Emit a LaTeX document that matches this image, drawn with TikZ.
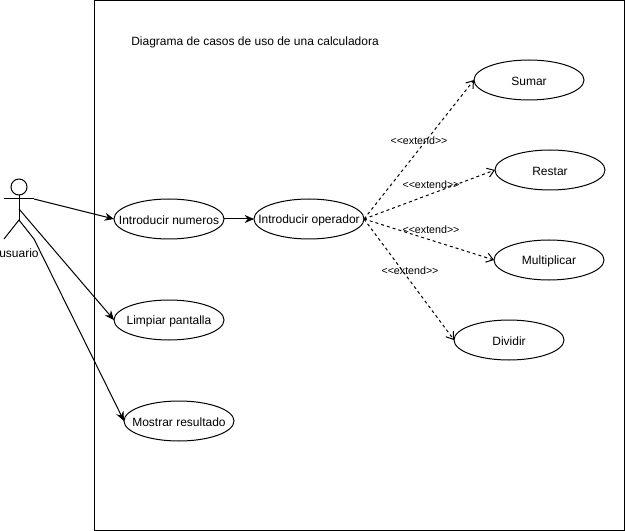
\documentclass[tikz,border=0pt]{standalone}
\usepackage{fontspec}
\setmainfont{Liberation Sans}[Ligatures=NoCommon]
\usetikzlibrary{shapes.geometric,arrows.meta}
\tikzset{
  uc/.style={draw,ellipse,line width=0.75pt,minimum width=82.5pt,minimum height=30pt,inner sep=0pt,outer sep=0pt,
     label={[font=\fontsize{9}{10}\selectfont,inner sep=0pt,yshift=-0.75pt]center:#1}},
  lab/.style={font=\fontsize{8}{9}\selectfont,inner sep=0pt},
  arr/.style={-{Stealth[length=7pt,width=6pt]},line width=0.75pt},
  ext/.style={-{Straight Barb[length=5pt,width=7pt]},line width=0.75pt,dash pattern=on 2.25pt off 2.25pt},
  ln/.style={line width=0.75pt}
}
\begin{document}
\begin{tikzpicture}[x=0.75pt,y=-0.75pt]
\useasboundingbox (0,0) rectangle (625,531);
\fill[white] (0,0) rectangle (625,531);
\node[draw,line width=0.75pt,inner sep=0pt,outer sep=0pt,anchor=north west,minimum width=397.5pt,minimum height=397.5pt] (sys) at (94.5,0.5) {};
\node[font=\fontsize{9}{10}\selectfont,anchor=west,inner sep=0pt] (title) at (131,42) {Diagrama de casos de uso de una calculadora};
\node[uc={Introducir numeros}] (num) at (169,219) {};
\node[uc={Introducir operador}] (ope) at (309,219) {};
\node[uc={Limpiar pantalla}] (lim) at (169,320) {};
\node[uc={Mostrar resultado}] (mos) at (179,421) {};
\node[uc={Sumar}] (sum) at (529,80) {};
\node[uc={Restar}] (res) at (550,170) {};
\node[uc={Multiplicar}] (mul) at (549,260) {};
\node[uc={Dividir}] (div) at (509,340) {};
\node[draw,circle,line width=0.75pt,minimum size=12pt,inner sep=0pt,outer sep=0pt] (head) at (19,187) {};
\coordinate (hip) at (19,220);
\coordinate (chest) at (19,209);
\coordinate (armL) at (4,199);
\coordinate (armR) at (34,199);
\coordinate (footL) at (4,239);
\coordinate (footR) at (34,239);
\draw[ln] (head) -- (hip);
\draw[ln] (armL) -- (armR);
\draw[ln] (footL) -- (hip) -- (footR);
\node[font=\fontsize{9}{10}\selectfont,inner sep=0pt] (actor) at (19,253.5) {usuario};
\draw[arr] (armR) -- (num.west);
\draw[arr] (chest) -- (lim.west);
\draw[arr] (footR) -- (mos.west);
\draw[arr] (num) -- (ope);
\draw[ext] (ope.east) -- (sum.west);
\draw[ext] (ope.east) -- (res.west);
\draw[ext] (ope.east) -- (mul.west);
\draw[ext] (ope.east) -- (div.west);
\node[lab] (l1) at (419,141) {{<}{<}extend{>}{>}};
\node[lab] (l2) at (431,185) {{<}{<}extend{>}{>}};
\node[lab] (l3) at (431,230) {{<}{<}extend{>}{>}};
\node[lab] (l4) at (410,271) {{<}{<}extend{>}{>}};
\end{tikzpicture}
\end{document}
